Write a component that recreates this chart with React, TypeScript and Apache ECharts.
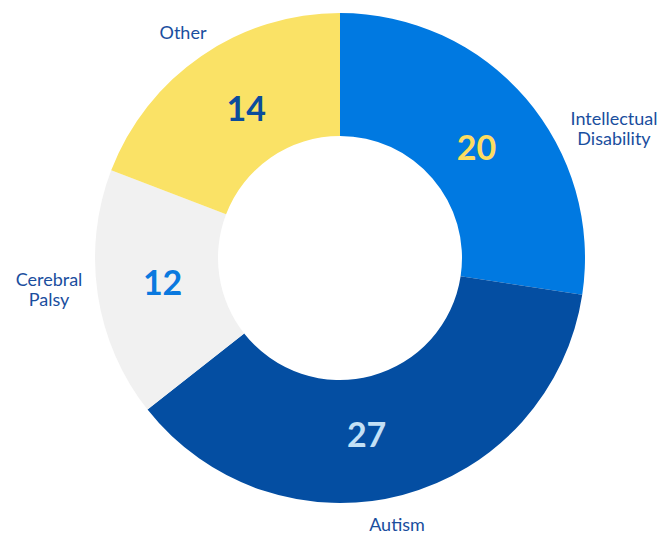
import React, { useEffect, useRef } from "react";
import * as echarts from "echarts";

const categories = ["Intellectual\nDisability", "Autism", "Cerebral\nPalsy", "Other"];
const values = [20, 27, 12, 14];
const sliceColors = ["#0079E1", "#044EA2", "#F1F1F1", "#FAE266"];
const valueColors = ["#FCDD62", "#C3E0F6", "#0A79DF", "#0B4C9C"];
const labelAnchors = [
  [614, 128],
  [397, 524],
  [49, 289],
  [183, 32],
];
const valueNudges = [
  [-5, 10],
  [-21, -5],
  [7, -4],
  [12, 3],
];

const FONT = "Lato, 'Noto Sans', sans-serif";

export default function App() {
  const ref = useRef<HTMLDivElement>(null);
  useEffect(() => {
    const chart = echarts.init(ref.current!, undefined, { renderer: "svg" });
    const data = categories.map((name, i) => ({
      name,
      value: values[i],
      itemStyle: { color: sliceColors[i] },
      label: { color: valueColors[i] },
    }));
    chart.setOption({
      animation: false,
      series: [
        {
          type: "pie",
          center: [340, 258],
          radius: [122, 245],
          startAngle: 90,
          clockwise: true,
          silent: true,
          data,
          itemStyle: { borderWidth: 0 },
          label: {
            show: true,
            position: "inside",
            formatter: "{c}",
            fontFamily: FONT,
            fontSize: 34,
            fontWeight: "bold",
          },
          labelLine: { show: false },
          labelLayout: (p: any) => ({
            dx: valueNudges[p.dataIndex][0],
            dy: valueNudges[p.dataIndex][1],
          }),
        },
        {
          type: "pie",
          center: [340, 258],
          radius: [122, 245],
          startAngle: 90,
          clockwise: true,
          silent: true,
          data: categories.map((name, i) => ({ name, value: values[i] })),
          itemStyle: { color: "rgba(0,0,0,0)", borderWidth: 0 },
          label: {
            show: true,
            position: "outside",
            formatter: "{b}",
            color: "#1A4E9E",
            fontFamily: FONT,
            fontSize: 18,
            lineHeight: 20,
            align: "center",
            overflow: "none",
            width: 200,
          },
          labelLine: { show: false },
          labelLayout: (p: any) => ({
            x: labelAnchors[p.dataIndex][0],
            y: labelAnchors[p.dataIndex][1],
            align: "center",
            verticalAlign: "middle",
          }),
        },
      ],
    });
    return () => chart.dispose();
  }, []);
  return (
    <div
      ref={ref}
      style={{ position: "absolute", left: 0, top: 0, width: 670, height: 537, background: "#fff" }}
    />
  );
}
